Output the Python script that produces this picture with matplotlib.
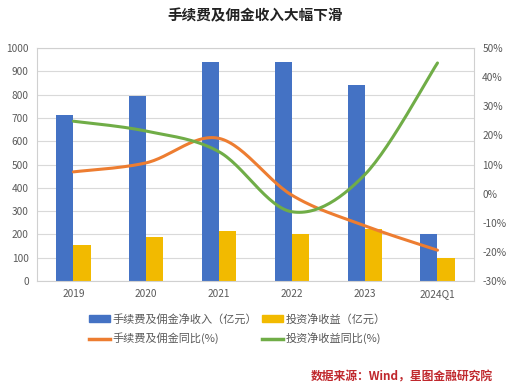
import numpy as np
import matplotlib
matplotlib.use("Agg")
import matplotlib.pyplot as plt
from matplotlib.lines import Line2D
from matplotlib.patches import Patch

plt.rcParams["font.family"] = ["Noto Sans CJK SC", "DejaVu Sans"]

# data
years = ["2019", "2020", "2021", "2022", "2023", "2024Q1"]
fee_income = [712, 794, 942, 942, 841, 202]      # 手续费及佣金净收入（亿元）
invest_income = [155, 189, 215, 202, 223, 99]    # 投资净收益（亿元）
fee_yoy = [7.5, 10.6, 19.0, -0.5, -11.0, -19.4]  # 手续费及佣金同比(%)
invest_yoy = [24.9, 21.5, 14.4, -6.2, 6.5, 44.9] # 投资净收益同比(%)

blue = "#4472C4"
yellow = "#F2BA00"
orange = "#ED7D31"
green = "#70AD47"
grey_txt = "#595959"


def smooth(x, y, n=30):
    # Excel-like smoothed line (Catmull-Rom style bezier)
    x = np.asarray(x, float)
    y = np.asarray(y, float)
    xs, ys = [], []
    for i in range(len(x) - 1):
        p0 = np.array([x[max(i - 1, 0)], y[max(i - 1, 0)]])
        p1 = np.array([x[i], y[i]])
        p2 = np.array([x[i + 1], y[i + 1]])
        p3 = np.array([x[min(i + 2, len(x) - 1)], y[min(i + 2, len(x) - 1)]])
        c1 = p1 + (p2 - p0) / 6
        c2 = p2 - (p3 - p1) / 6
        t = np.linspace(0, 1, n)[:, None]
        pts = (1 - t) ** 3 * p1 + 3 * (1 - t) ** 2 * t * c1 + 3 * (1 - t) * t ** 2 * c2 + t ** 3 * p2
        xs.extend(pts[:, 0])
        ys.extend(pts[:, 1])
    return np.array(xs), np.array(ys)


fig = plt.figure(figsize=(5.11, 3.85), dpi=100)
ax = fig.add_axes([0.0724, 0.270, 0.855, 0.605])

x = np.arange(len(years))
w = 0.235
ax.bar(x - w / 2, fee_income, w, color=blue, zorder=2)
ax.bar(x + w / 2, invest_income, w, color=yellow, zorder=2)

ax.set_xlim(-0.5, len(years) - 0.5)
ax.set_ylim(0, 1000)
ax.set_yticks(range(0, 1001, 100))
ax.set_xticks(x)
ax.set_xticklabels(years)
ax.grid(axis="y", color="#d9d9d9", linewidth=0.8, zorder=0)
ax.tick_params(length=0, labelsize=7.3, colors=grey_txt, pad=6)
for s in ax.spines.values():
    s.set_color("#d0d0d0")
    s.set_linewidth(0.8)

ax2 = ax.twinx()
ax2.set_ylim(-30, 50)
ax2.set_yticks(range(-30, 51, 10))
ax2.set_yticklabels([f"{v}%" for v in range(-30, 51, 10)])
ax2.tick_params(length=0, labelsize=7.3, colors=grey_txt, pad=6)
for s in ax2.spines.values():
    s.set_visible(False)

sx, sy = smooth(x, fee_yoy)
ax2.plot(sx, sy, color=orange, linewidth=2.2, solid_capstyle="round")
sx, sy = smooth(x, invest_yoy)
ax2.plot(sx, sy, color=green, linewidth=2.2, solid_capstyle="round")

fig.text(0.5, 0.96, "手续费及佣金收入大幅下滑", ha="center", va="center",
         fontsize=10.5, fontweight="bold", color="#222222")

handles = [
    Patch(color=blue), Line2D([], [], color=orange, linewidth=2.5),
    Patch(color=yellow), Line2D([], [], color=green, linewidth=2.5),
]
labels = ["手续费及佣金净收入（亿元）", "手续费及佣金同比(%)",
          "投资净收益（亿元）", "投资净收益同比(%)"]
fig.legend(handles, labels, ncol=2, loc="center", bbox_to_anchor=(0.464, 0.145),
           frameon=False, fontsize=8, labelcolor=grey_txt,
           handlelength=1.9, handleheight=0.6, handletextpad=0.2,
           columnspacing=0.5, labelspacing=0.7)

fig.text(0.965, 0.022, "数据来源：Wind，星图金融研究院", ha="right", va="center",
         fontsize=8.5, color="#C0282D", style="italic", fontweight="bold")

fig.savefig("out.png", dpi=100)
